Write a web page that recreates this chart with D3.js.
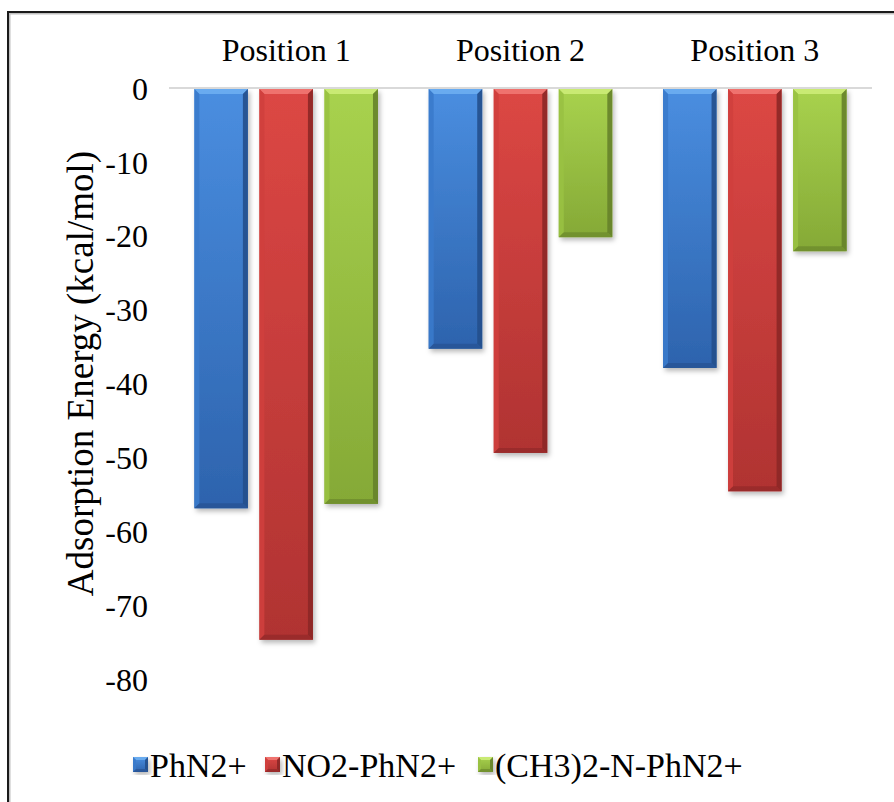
<!DOCTYPE html>
<html><head><meta charset="utf-8">
<script src="https://cdn.jsdelivr.net/npm/d3@7/dist/d3.min.js"></script>
<style>
html,body{margin:0;padding:0;background:#fff;}
svg{display:block;}
svg text{font-family:"Liberation Serif","Tinos","Times New Roman","DejaVu Serif",serif !important;fill:#000;}
</style></head>
<body>
<script>
const categories = ["Position 1", "Position 2", "Position 3"];
const seriesNames = ["PhN2+", "NO2-PhN2+", "(CH3)2-N-PhN2+"];
const phN2 = [-56.9, -35.3, -37.9];
const no2PhN2 = [-74.7, -49.4, -54.6];
const ch3NPhN2 = [-56.3, -20.2, -22.1];
const yTicks = [0, -10, -20, -30, -40, -50, -60, -70, -80];

const seriesValues = [phN2, no2PhN2, ch3NPhN2];
const palette = [
  {main:"#3a7acb", light:"#6fb0f2", top:"#4a8ee0", bottom:"#2d63ad", dark:"#244f8c"},
  {main:"#cf3f3d", light:"#f27a76", top:"#dc4744", bottom:"#b03332", dark:"#8c2726"},
  {main:"#99c142", light:"#cfee7a", top:"#a8d24e", bottom:"#85a936", dark:"#66822a"}
];
const FONT = '"Liberation Serif","Tinos","Times New Roman","DejaVu Serif",serif';

const W = 894, H = 802;
const svg = d3.select("body").append("svg").attr("width", W).attr("height", H)
  .style("font-family", FONT);
const defs = svg.append("defs");

const f = defs.append("filter").attr("id","shadow").attr("x","-20%").attr("y","-5%").attr("width","150%").attr("height","120%");
f.append("feDropShadow").attr("dx",2).attr("dy",3).attr("stdDeviation",2.5).attr("flood-color","#000").attr("flood-opacity",0.28);

palette.forEach((c,i)=>{
  const g = defs.append("linearGradient").attr("id","vg"+i).attr("x1",0).attr("y1",0).attr("x2",0).attr("y2",1);
  g.append("stop").attr("offset","0%").attr("stop-color",c.top);
  g.append("stop").attr("offset","100%").attr("stop-color",c.bottom);
});

// outer frame
svg.append("rect").attr("x",9).attr("y",13).attr("width",W+20).attr("height",H+20)
  .attr("fill","none").attr("stroke","#bfbfbf").attr("stroke-width",3);
svg.append("rect").attr("x",8).attr("y",12).attr("width",W+20).attr("height",H+20)
  .attr("fill","none").attr("stroke","#1a1a1a").attr("stroke-width",2);

const plotL = 169, plotR = 872, plotT = 88, plotB = 679;
const x0 = d3.scaleBand().domain(categories).range([plotL, plotR]).padding(0);
const x1 = d3.scaleBand().domain(seriesNames).range([0, x0.bandwidth()]).paddingInner(0.177).paddingOuter(0.39);
const y = d3.scaleLinear().domain([0, -80]).range([plotT, plotB]);

// y tick labels (hyphen-minus as in the original)
const yAxis = d3.axisLeft(y).tickValues(yTicks).tickSize(0).tickPadding(0)
  .tickFormat(d => String(d));
const ya = svg.append("g").attr("transform", `translate(148,0)`).call(yAxis);
ya.attr("font-family", null);
ya.select(".domain").remove();
ya.selectAll("text").attr("font-size", 32).style("font-family", FONT).attr("fill","#000").attr("dy","0.35em");

// category labels at top
svg.append("g").selectAll("text").data(categories).join("text")
  .attr("x", d => x0(d) + x0.bandwidth()/2).attr("y", 50).attr("dy","0.35em")
  .attr("text-anchor","middle").attr("font-size", 32).style("font-family", FONT).text(d => d);

// y axis title
svg.append("text").attr("transform", `translate(80,${(plotT+plotB)/2 - 10}) rotate(-90)`)
  .attr("text-anchor","middle").attr("dy","0.35em").attr("font-size", 37).style("font-family", FONT)
  .text("Adsorption Energy (kcal/mol)");

// bars
const bars = [];
categories.forEach((cat, ci) => {
  seriesNames.forEach((s, si) => {
    bars.push({cat, s, si, v: seriesValues[si][ci]});
  });
});

function drawBevelBar(g, x, yTop, w, h, c, gi, bev) {
  const b = Math.min(bev, h/2);
  const grp = g.append("g");
  grp.append("rect").attr("x",x).attr("y",yTop).attr("width",w).attr("height",h)
    .attr("fill",`url(#vg${gi})`).attr("filter","url(#shadow)");
  grp.append("path").attr("d",`M${x},${yTop}L${x+w},${yTop}L${x+w-b},${yTop+b}L${x+b},${yTop+b}Z`)
    .attr("fill",c.light).attr("opacity",0.85);
  grp.append("path").attr("d",`M${x},${yTop}L${x+b},${yTop+b}L${x+b},${yTop+h-b}L${x},${yTop+h}Z`)
    .attr("fill",c.main).attr("opacity",0.9);
  grp.append("path").attr("d",`M${x+w},${yTop}L${x+w},${yTop+h}L${x+w-b},${yTop+h-b}L${x+w-b},${yTop+b}Z`)
    .attr("fill",c.dark).attr("opacity",0.9);
  grp.append("path").attr("d",`M${x},${yTop+h}L${x+w},${yTop+h}L${x+w-b},${yTop+h-b}L${x+b},${yTop+h-b}Z`)
    .attr("fill",c.dark).attr("opacity",0.6);
}

const barG = svg.append("g");
bars.forEach(d => {
  const x = x0(d.cat) + x1(d.s);
  const yTop = y(0) + 1;
  const h = y(d.v) - y(0) - 1;
  drawBevelBar(barG, x, yTop, x1.bandwidth(), h, palette[d.si], d.si, 5);
});

// zero line
svg.append("line").attr("x1", plotL).attr("x2", plotR).attr("y1", y(0)).attr("y2", y(0))
  .attr("stroke","#d9d9d9").attr("stroke-width",2);

// legend
const legendX = [133, 265, 478];
const legY = 765;
const leg = svg.append("g");
seriesNames.forEach((s, i) => {
  drawBevelBar(leg, legendX[i], legY - 8, 15, 15, palette[i], i, 3);
  leg.append("text").attr("x", legendX[i] + 17).attr("y", legY).attr("dy","0.35em")
    .attr("font-size", 34).style("font-family", FONT).text(s);
});
</script>
</body></html>
